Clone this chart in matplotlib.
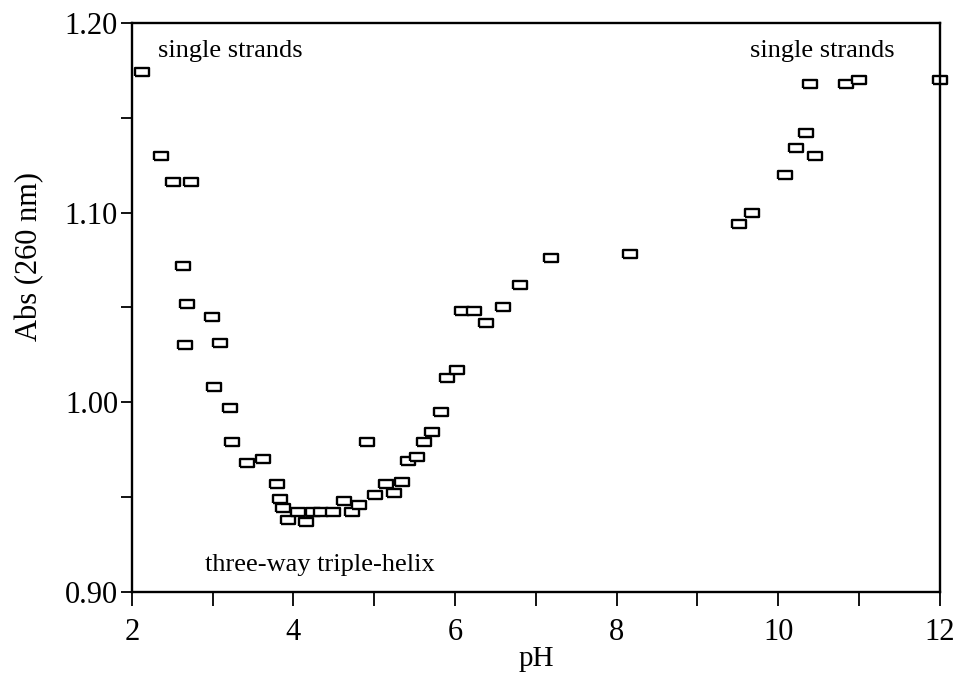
import matplotlib
matplotlib.use("Agg")
import matplotlib.pyplot as plt
from matplotlib.ticker import MultipleLocator, FormatStrFormatter

plt.rcParams['font.family'] = ['Liberation Serif', 'DejaVu Serif']

# absorbance at 260 nm versus pH
ph = [2.12, 2.36, 2.51, 2.73, 2.63, 2.68, 2.66, 2.99, 3.09, 3.01,
      3.21, 3.24, 3.42, 3.62, 3.79, 3.83, 3.87, 3.93, 4.05, 4.16,
      4.24, 4.34, 4.49, 4.63, 4.73, 4.81, 4.91, 5.01, 5.14, 5.24,
      5.34, 5.42, 5.53, 5.61, 5.71, 5.82, 5.90, 6.02, 6.09, 6.23,
      6.38, 6.59, 6.81, 7.19, 8.16, 9.52, 9.68, 10.09, 10.22, 10.35,
      10.45, 10.39, 10.84, 11.00, 12.00]
absorb = [1.174, 1.130, 1.116, 1.116, 1.072, 1.052, 1.030, 1.045, 1.031, 1.008,
          0.997, 0.979, 0.968, 0.970, 0.957, 0.949, 0.944, 0.938, 0.942, 0.937,
          0.942, 0.942, 0.942, 0.948, 0.942, 0.946, 0.979, 0.951, 0.957, 0.952,
          0.958, 0.969, 0.971, 0.979, 0.984, 0.995, 1.013, 1.017, 1.048, 1.048,
          1.042, 1.050, 1.062, 1.076, 1.078, 1.094, 1.100, 1.120, 1.134, 1.142,
          1.130, 1.168, 1.168, 1.170, 1.170]

# flat rectangle marker
rect = [(-1, -0.6), (1, -0.6), (1, 0.6), (-1, 0.6), (-1, -0.6)]

fig = plt.figure(figsize=(9.56, 6.74), dpi=100)
ax = fig.add_axes([0.138, 0.122, 0.845, 0.844])

ax.plot(ph, absorb, linestyle='none', marker=rect, markersize=9.5,
        markerfacecolor='white', markeredgecolor='black', markeredgewidth=1.7,
        clip_on=False)

ax.set_xlim(2, 12)
ax.set_ylim(0.90, 1.20)
ax.xaxis.set_major_locator(MultipleLocator(2))
ax.xaxis.set_minor_locator(MultipleLocator(1))
ax.yaxis.set_major_locator(MultipleLocator(0.1))
ax.yaxis.set_minor_locator(MultipleLocator(0.05))
ax.yaxis.set_major_formatter(FormatStrFormatter('%.2f'))

ax.tick_params(axis='both', which='both', direction='out', top=False, right=False,
               width=1.3, labelsize=22, colors='black')
ax.tick_params(axis='x', which='both', length=10, pad=9)
ax.tick_params(axis='y', which='both', length=8, pad=2)
for s in ax.spines.values():
    s.set_linewidth(1.7)

ax.set_xlabel('pH', fontsize=21, labelpad=-1)
ax.set_ylabel('Abs (260 nm)', fontsize=22, va='center')
ax.yaxis.set_label_coords(-0.127, 0.59)

ax.text(2.32, 1.185, 'single strands', fontsize=19, va='center', ha='left')
ax.text(9.65, 1.185, 'single strands', fontsize=19, va='center', ha='left')
ax.text(2.9, 0.914, 'three-way triple-helix', fontsize=19, va='center', ha='left')

fig.savefig('out.png', dpi=100, facecolor='white')
